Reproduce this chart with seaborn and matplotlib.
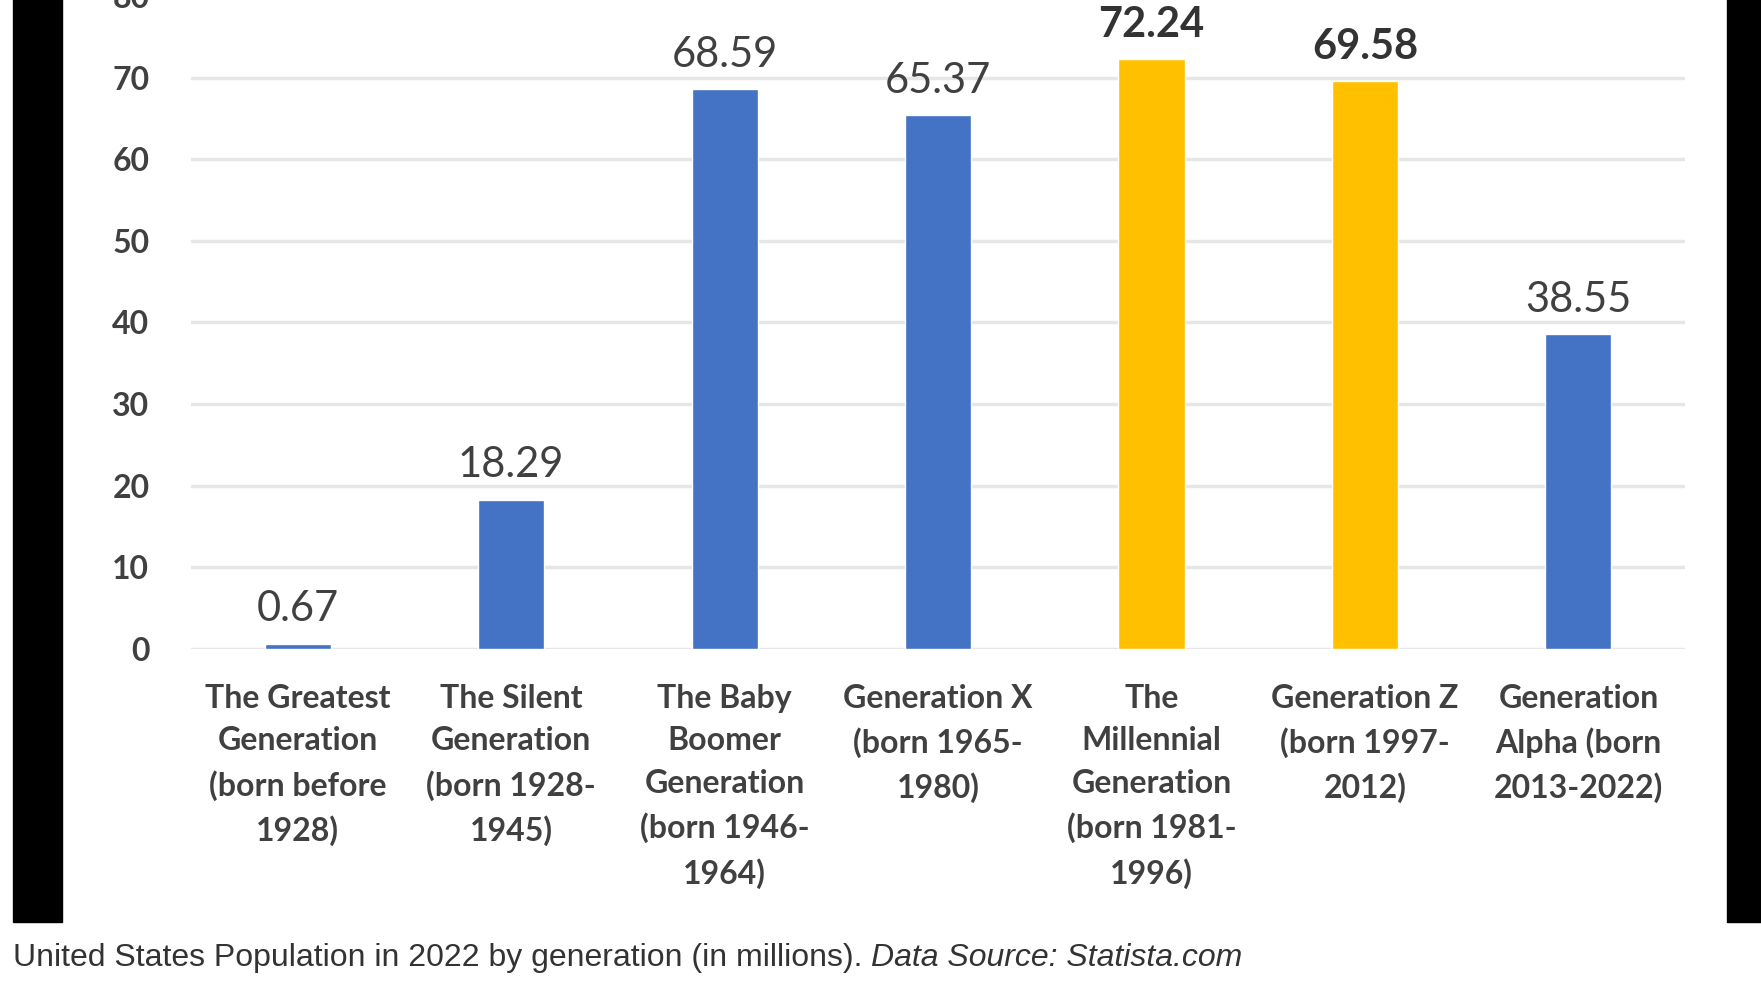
import seaborn as sns
import matplotlib.pyplot as plt
import pandas as pd
from matplotlib.patches import Rectangle

# US population 2022 by generation (millions)
generations = [
    "The Greatest\nGeneration\n(born before\n1928)",
    "The Silent\nGeneration\n(born 1928-\n1945)",
    "The Baby\nBoomer\nGeneration\n(born 1946-\n1964)",
    "Generation X\n(born 1965-\n1980)",
    "The\nMillennial\nGeneration\n(born 1981-\n1996)",
    "Generation Z\n(born 1997-\n2012)",
    "Generation\nAlpha (born\n2013-2022)",
]
population = [0.67, 18.29, 68.59, 65.37, 72.24, 69.58, 38.55]
highlight = [False, False, False, False, True, True, False]
y_ticks = [0, 10, 20, 30, 40, 50, 60, 70, 80]

blue = "#4472C4"
gold = "#FFC000"
txt = "#404040"

df = pd.DataFrame({"generation": generations, "population": population})
palette = {g: (gold if h else blue) for g, h in zip(generations, highlight)}

sns.set_style("white")
plt.rcParams["font.family"] = ["Lato", "DejaVu Sans"]

fig = plt.figure(figsize=(17.61, 9.82), dpi=100)
ax = fig.add_axes([0.1085, 0.3391, 0.8484, 0.665])

sns.barplot(data=df, x="generation", y="population", hue="generation",
            palette=palette, width=0.31, saturation=1, legend=False, ax=ax)

ax.set_ylim(0, 80)
ax.set_yticks(y_ticks)
ax.set_xlim(-0.5, len(generations) - 0.5)
ax.yaxis.grid(True, color="#E6E6E6", linewidth=2.5)
ax.set_axisbelow(True)
for s in ax.spines.values():
    s.set_visible(False)
ax.set_xlabel("")
ax.set_ylabel("")
ax.tick_params(axis="x", length=0, pad=25, labelsize=23, labelcolor=txt)
ax.tick_params(axis="y", length=0, pad=30, labelsize=23, labelcolor=txt)
for lab in ax.get_xticklabels():
    lab.set_fontweight("bold")
    lab.set_linespacing(1.57)
    lab.set_va("top")
for lab in ax.get_yticklabels():
    lab.set_fontweight("bold")

for cont, h in zip(ax.containers, highlight):
    ax.bar_label(cont, fmt="%.2f", padding=11, fontsize=30, color="#333333" if h else txt,
                 fontweight="bold" if h else "normal")

# black side strips from the screenshot
fig.patches.append(Rectangle((13 / 1761, 60 / 982), 49 / 1761, 1, transform=fig.transFigure,
                             color="black", zorder=5))
fig.patches.append(Rectangle((1727 / 1761, 60 / 982), 40 / 1761, 1, transform=fig.transFigure,
                             color="black", zorder=5))

t1 = fig.text(13 / 1761, 24 / 982, "United States Population in 2022 by generation (in millions). ",
              family="Liberation Sans", fontsize=23, color="#333333", va="center")
fig.canvas.draw()
bb = t1.get_window_extent(fig.canvas.get_renderer())
fig.text(bb.x1 / fig.bbox.width, 24 / 982, "Data Source: Statista.com", family="Liberation Sans",
         fontsize=23, style="italic", color="#333333", va="center")

fig.savefig("out.png", dpi=100)
